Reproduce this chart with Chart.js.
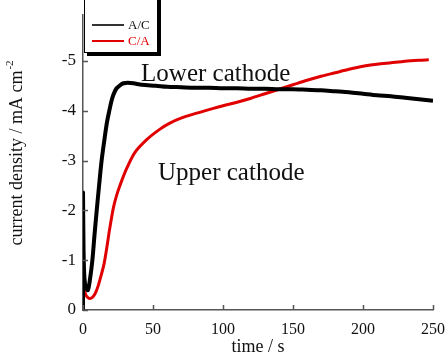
<!DOCTYPE html>
<html>
<head>
<meta charset="utf-8">
<script src="https://cdn.jsdelivr.net/npm/chart.js@4/dist/chart.umd.min.js"></script>
<style>
  html, body { margin: 0; padding: 0; background: #fff; }
  #wrap { position: relative; width: 446px; height: 358px; overflow: hidden; }
  #legend {
    position: absolute; left: 84px; top: -5px; width: 72px; height: 56px;
    border: 1px solid #000; box-shadow: 3px 3px 0 #000; background: #fff;
    font-family: "Liberation Serif", "Times New Roman", serif; font-size: 13px;
  }
  .row { position: absolute; left: 7px; display: flex; align-items: center; }
  .row i { display: inline-block; width: 32px; height: 1.5px; margin-right: 4px; }
</style>
</head>
<body>
<div id="wrap">
  <canvas id="chart" width="446" height="358"></canvas>
  <div id="legend">
    <div class="row" style="top:21px"><i style="background:#333"></i><span style="color:#111">A/C</span></div>
    <div class="row" style="top:37px"><i style="background:#e00000"></i><span style="color:#e00000">C/A</span></div>
  </div>
</div>
<script>
// A/C curve (lower cathode)
const timeAC = [0, 0, 0.4, 1, 2, 3.5, 5, 6.7, 8.2, 9.8, 11.5, 13.3, 15.7, 17.2, 18.8, 20.2, 21.7, 24, 26.4, 29, 32, 36, 42, 52,
  60, 70, 80, 90, 100, 110, 120, 130, 140, 150, 160, 170, 180, 190, 200, 210, 220, 230, 240, 250];
const currentAC = [0, -2.35, -1.2, -0.65, -0.45, -0.4, -0.62, -1.0, -1.5, -2.0, -2.5, -3.0, -3.5, -3.78, -4.0, -4.18, -4.32, -4.45, -4.51, -4.55, -4.56, -4.55, -4.52, -4.5,
  -4.48, -4.47, -4.46, -4.46, -4.45, -4.45, -4.44, -4.44, -4.43, -4.43, -4.42, -4.41, -4.39, -4.37, -4.34, -4.31, -4.29, -4.26, -4.23, -4.2];

// C/A curve (upper cathode)
const timeCA = [0, 0, 0.4, 1, 2, 3.5, 5, 7, 9, 11, 13, 15, 17, 19, 21.7, 24, 26.4, 31.2, 37, 45.5, 55, 62,
  70, 80, 90, 100, 110, 120, 130, 140, 150, 160, 170, 180, 190, 200, 210, 220, 230, 240, 247];
const currentCA = [0, -1.43, -0.75, -0.45, -0.3, -0.25, -0.23, -0.26, -0.35, -0.5, -0.7, -0.92, -1.25, -1.62, -2.05, -2.3, -2.5, -2.84, -3.16, -3.42, -3.63, -3.75,
  -3.85, -3.94, -4.02, -4.1, -4.17, -4.25, -4.34, -4.43, -4.52, -4.61, -4.69, -4.76, -4.83, -4.89, -4.93, -4.96, -4.99, -5.01, -5.02];

const xTicks = [0, 50, 100, 150, 200, 250];
const yTicks = [0, -1, -2, -3, -4, -5];

const SERIF = '"Liberation Serif", "Times New Roman", serif';
const pts = (xs, ys) => xs.map((t, i) => ({ x: t, y: ys[i] }));

// inward ticks, y title with superscript, curve labels
const decor = {
  id: 'decor',
  afterDraw(chart) {
    const { ctx, chartArea: a, scales: { x, y } } = chart;
    ctx.save();
    ctx.strokeStyle = '#555';
    ctx.lineWidth = 1.5;
    ctx.beginPath();
    xTicks.forEach(v => {
      const px = Math.round(x.getPixelForValue(v)) + 0.5;
      ctx.moveTo(px, a.bottom); ctx.lineTo(px, a.bottom - 5);
    });
    yTicks.forEach(v => {
      const py = Math.round(y.getPixelForValue(v)) + 0.5;
      ctx.moveTo(a.left, py); ctx.lineTo(a.left + 5, py);
    });
    ctx.stroke();

    ctx.fillStyle = '#111';
    ctx.font = '25px ' + SERIF;
    ctx.textBaseline = 'alphabetic';
    ctx.fillText('Lower cathode', x.getPixelForValue(41.5), y.getPixelForValue(-4.59));
    ctx.fillText('Upper cathode', x.getPixelForValue(53.6), y.getPixelForValue(-2.61));

    // y axis title
    ctx.translate(17, 153);
    ctx.rotate(-Math.PI / 2);
    const main = 'current density / mA cm', sup = '-2';
    ctx.font = '18px ' + SERIF;
    const w1 = ctx.measureText(main).width;
    ctx.font = '11px ' + SERIF;
    const w2 = ctx.measureText(sup).width;
    const start = -(w1 + w2 + 1) / 2;
    ctx.textBaseline = 'middle';
    ctx.font = '18px ' + SERIF;
    ctx.fillText(main, start, 0);
    ctx.font = '11px ' + SERIF;
    ctx.fillText(sup, start + w1 + 1, -7);
    ctx.restore();
  }
};

new Chart(document.getElementById('chart'), {
  type: 'line',
  data: {
    datasets: [
      { label: 'A/C', data: pts(timeAC, currentAC), borderColor: '#000', borderWidth: 4 },
      { label: 'C/A', data: pts(timeCA, currentCA), borderColor: '#e00000', borderWidth: 3 }
    ]
  },
  options: {
    responsive: false,
    animation: false,
    events: [],
    layout: { padding: { top: 15, right: 13, left: 0, bottom: 0 } },
    elements: { point: { radius: 0 }, line: { tension: 0.3 } },
    plugins: { legend: { display: false }, tooltip: { enabled: false } },
    scales: {
      x: {
        type: 'linear', min: 0, max: 250,
        afterFit: s => { s.height = 48; s.paddingLeft = 0; s.paddingRight = 0; },
        afterBuildTicks: s => { s.ticks = xTicks.map(v => ({ value: v })); },
        grid: { display: false, drawTicks: false },
        border: { display: true, color: '#555', width: 1.5 },
        ticks: { color: '#111', padding: 10, font: { family: SERIF, size: 16 } },
        title: { display: true, text: 'time / s', color: '#111', padding: { top: 0, bottom: 0 }, font: { family: SERIF, size: 18 } }
      },
      y: {
        type: 'linear', min: -5.92, max: 0, reverse: true,
        afterFit: s => { s.width = 83; s.paddingTop = 0; s.paddingBottom = 0; },
        afterBuildTicks: s => { s.ticks = yTicks.map(v => ({ value: v })); },
        grid: { display: false, drawTicks: false },
        border: { display: true, color: '#555', width: 1.5 },
        ticks: { color: '#111', padding: 7, font: { family: SERIF, size: 17 } }
      }
    }
  },
  plugins: [decor]
});
</script>
</body>
</html>
